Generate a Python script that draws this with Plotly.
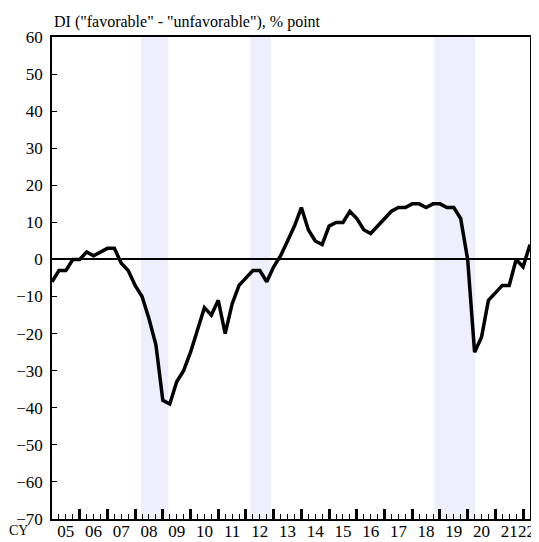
import plotly.graph_objects as go

# Quarterly DI, 2005Q1 .. 2022Q2
years = list(range(2005, 2023))
quarters = [f"{y}Q{q}" for y in years for q in range(1, 5)][:70]
di_values = [
    -6, -3, -3, 0,      # 2005
    0, 2, 1, 2,         # 2006
    3, 3, -1, -3,       # 2007
    -7, -10, -16, -23,  # 2008
    -38, -39, -33, -30, # 2009
    -25, -19, -13, -15, # 2010
    -11, -20, -12, -7,  # 2011
    -5, -3, -3, -6,     # 2012
    -2, 1, 5, 9,        # 2013
    14, 8, 5, 4,        # 2014
    9, 10, 10, 13,      # 2015
    11, 8, 7, 9,        # 2016
    11, 13, 14, 14,     # 2017
    15, 15, 14, 15,     # 2018
    15, 14, 14, 11,     # 2019
    0, -25, -21, -11,   # 2020
    -9, -7, -7, 0,      # 2021
    -2, 4,              # 2022
]
year_labels = ["05", "06", "07", "08", "09", "10", "11", "12", "13", "14",
               "15", "16", "17", "18", "19", "20", "21", "22"]
# shaded periods (quarter-index units, start/end)
shade_periods = [(12.85, 16.8), (28.6, 31.6), (55.2, 61.1)]

x_idx = list(range(len(di_values)))
label_pos = [4 * i + 2 for i in range(len(year_labels) - 1)] + [68.5]

SERIF = "serif"

fig = go.Figure()
fig.add_trace(go.Scatter(
    x=x_idx, y=di_values, mode="lines",
    line=dict(color="black", width=3.5),
    hoverinfo="skip", showlegend=False,
))
# invisible trace on the label axis
fig.add_trace(go.Scatter(x=[0, 69], y=[None, None], xaxis="x2",
                         showlegend=False, hoverinfo="skip"))

for x0, x1 in shade_periods:
    fig.add_shape(type="rect", xref="x", yref="paper", x0=x0, x1=x1,
                  y0=0, y1=1, fillcolor="#EEEEFC", line=dict(width=0),
                  layer="below")

fig.update_layout(
    width=539, height=542,
    margin=dict(l=44, r=17, t=29, b=31, autoexpand=False),
    plot_bgcolor="white", paper_bgcolor="white",
    font=dict(family=SERIF, size=17, color="black"),
    xaxis=dict(
        range=[0, 69], tickmode="linear", tick0=0, dtick=4,
        ticks="inside", ticklen=10, tickwidth=3, tickcolor="black",
        showticklabels=False, showgrid=False, zeroline=False,
        showline=True, linecolor="black", linewidth=1.5, mirror=True,
        automargin=False,
        minor=dict(ticks="inside", tick0=0, dtick=1, ticklen=5,
                   tickwidth=1, tickcolor="black", showgrid=False),
    ),
    xaxis2=dict(
        overlaying="x", side="bottom", range=[0, 69],
        tickmode="array", tickvals=label_pos, ticktext=year_labels,
        ticks="", showgrid=False, zeroline=False, showline=False,
        tickangle=0, automargin=False,
        tickfont=dict(family=SERIF, size=17), ticklabelstandoff=0,
    ),
    yaxis=dict(
        range=[-70, 60], tickmode="linear", tick0=-70, dtick=10,
        ticks="inside", ticklen=5, tickwidth=1, tickcolor="black",
        showgrid=False, zeroline=True, zerolinecolor="black",
        zerolinewidth=1.5, automargin=False,
        showline=True, linecolor="black", linewidth=1.5, mirror=True,
        tickfont=dict(family=SERIF, size=17), ticklabelstandoff=4,
    ),
    annotations=[
        dict(text='DI ("favorable" - "unfavorable"), % point',
             xref="paper", yref="paper", x=0, y=1, xanchor="left",
             yanchor="bottom", yshift=4, showarrow=False,
             font=dict(family=SERIF, size=16)),
        dict(text="CY", xref="paper", yref="paper", x=0, y=0,
             xanchor="right", yanchor="bottom", xshift=-22, yshift=-21,
             showarrow=False, font=dict(family=SERIF, size=14)),
    ],
)

fig.write_html("out.html")
